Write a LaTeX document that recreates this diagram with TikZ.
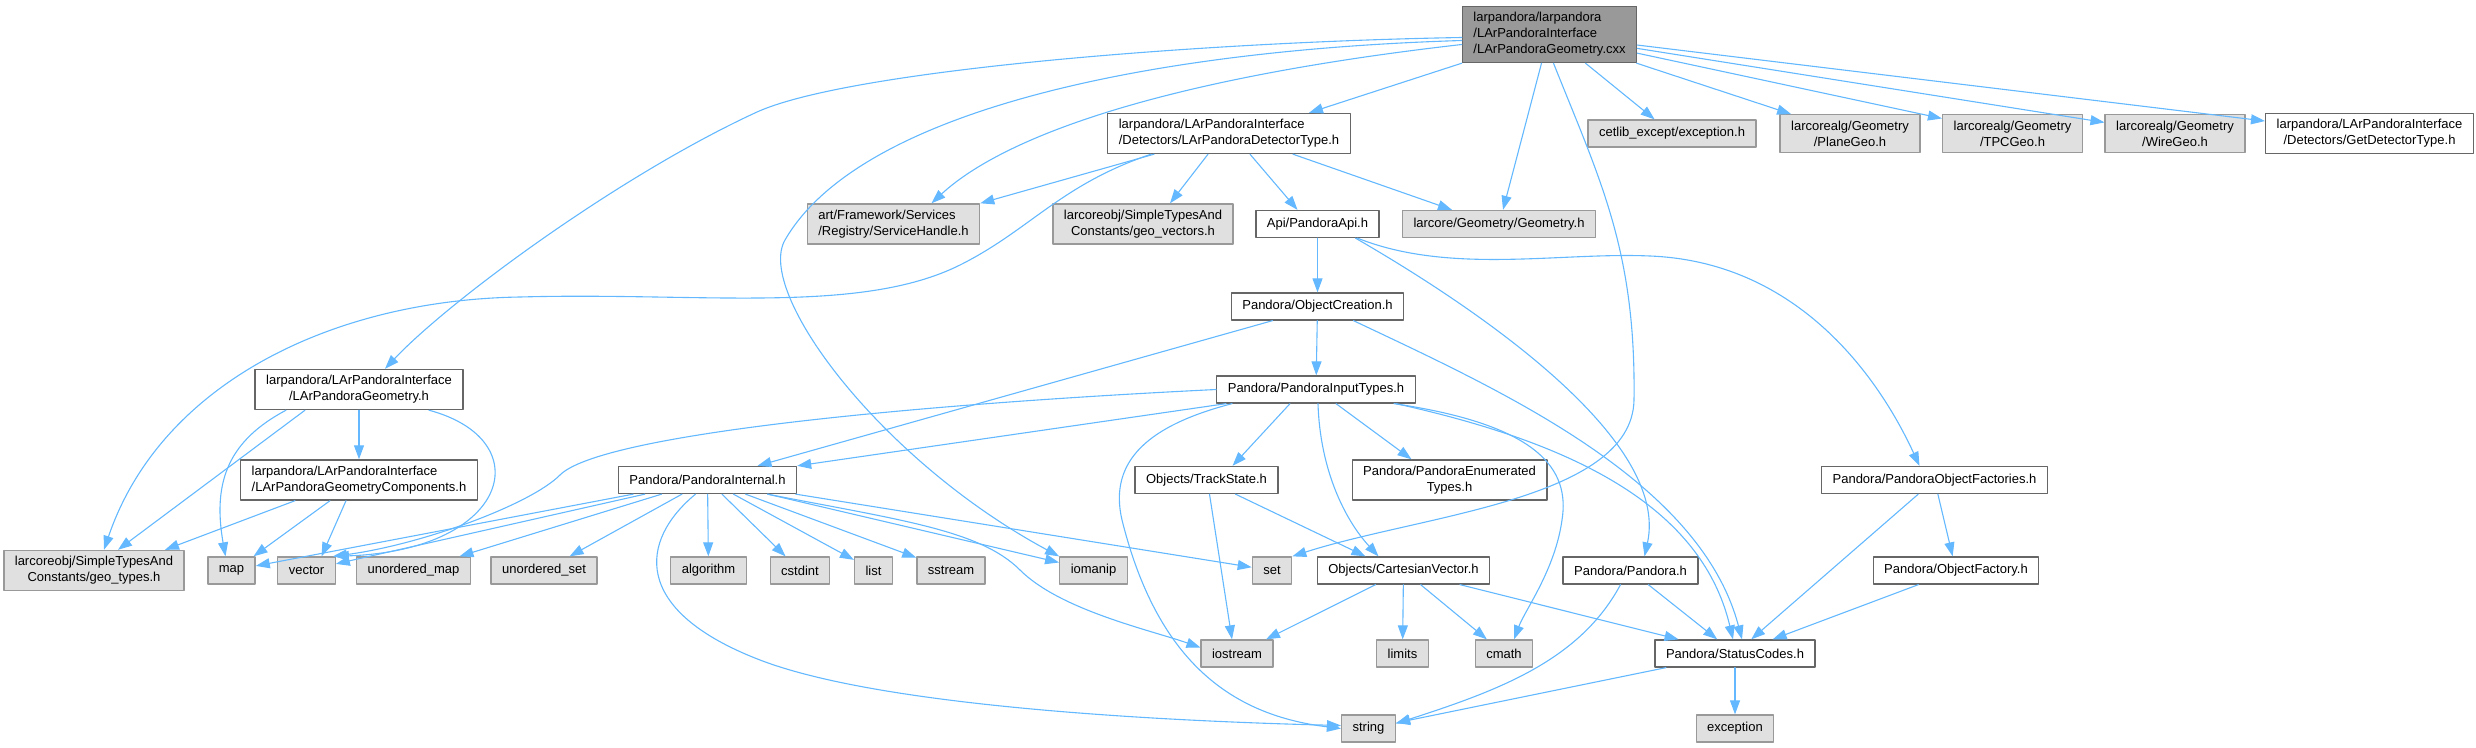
\documentclass[tikz,border=0pt]{standalone}
\usepackage{fontspec}
\setmainfont{Liberation Sans}
\usetikzlibrary{arrows.meta}
\definecolor{edgeblue}{HTML}{63B8FF}
\definecolor{srcfill}{HTML}{999999}
\definecolor{sysfill}{HTML}{E0E0E0}
\definecolor{darkline}{HTML}{666666}
\definecolor{lightline}{HTML}{999999}
\begin{document}
\begin{tikzpicture}[x=1pt, y=-1pt, line join=round, line cap=round, >={Triangle[length=14pt,width=10pt]},
  box/.style={rectangle, line width=1.3pt, minimum height=27pt, inner xsep=11pt, inner ysep=6pt, font=\fontsize{13}{16}\selectfont},
  hdr/.style={box, draw=darkline, fill=white},
  sys/.style={box, draw=lightline, fill=sysfill},
  src/.style={box, draw=darkline, fill=srcfill},
  dep/.style={->, draw=edgeblue, line width=1.1pt}]
\useasboundingbox (0,0) rectangle (2476,747);
\node[src, align=left] (cxx) at (1549.5,34.5) {larpandora/larpandora\\/LArPandoraInterface\\/LArPandoraGeometry.cxx};
\node[hdr, align=left] (dettype) at (1229,133.5) {larpandora/LArPandoraInterface\\/Detectors/LArPandoraDetectorType.h};
\node[sys] (cetexc) at (1672,133.5) {cetlib\_except/exception.h};
\node[sys, align=center] (planegeo) at (1850,133.5) {larcorealg/Geometry\\/PlaneGeo.h};
\node[sys, align=center] (tpcgeo) at (2012.5,133.5) {larcorealg/Geometry\\/TPCGeo.h};
\node[sys, align=center] (wiregeo) at (2175,133.5) {larcorealg/Geometry\\/WireGeo.h};
\node[hdr, align=center] (getdet) at (2369.5,133.5) {larpandora/LArPandoraInterface\\/Detectors/GetDetectorType.h};
\node[sys, align=left] (svchandle) at (893.5,224) {art/Framework/Services\\/Registry/ServiceHandle.h};
\node[sys, align=center] (geovec) at (1143,224) {larcoreobj/SimpleTypesAnd\\Constants/geo\_vectors.h};
\node[hdr] (api) at (1317.5,224) {Api/PandoraApi.h};
\node[sys] (geom) at (1499,224) {larcore/Geometry/Geometry.h};
\node[hdr] (objcreate) at (1317.5,306.5) {Pandora/ObjectCreation.h};
\node[hdr, align=center] (lpgeom) at (359,389.5) {larpandora/LArPandoraInterface\\/LArPandoraGeometry.h};
\node[hdr] (inputtypes) at (1316,389.5) {Pandora/PandoraInputTypes.h};
\node[hdr, align=left] (lpgeomcomp) at (359,480) {larpandora/LArPandoraInterface\\/LArPandoraGeometryComponents.h};
\node[hdr] (internal) at (707.5,480) {Pandora/PandoraInternal.h};
\node[hdr] (trackstate) at (1206.5,480) {Objects/TrackState.h};
\node[hdr, align=center] (enumtypes) at (1449.5,480) {Pandora/PandoraEnumerated\\Types.h};
\node[hdr] (objfactories) at (1934.5,480) {Pandora/PandoraObjectFactories.h};
\node[sys, align=center] (geotypes) at (94,570.5) {larcoreobj/SimpleTypesAnd\\Constants/geo\_types.h};
\foreach \n/\x/\t in {map/231.5/map, vector/306.5/vector, umap/413.5/unordered\_map, uset/544/unordered\_set, algorithm/708.5/algorithm, cstdint/800/cstdint, list/873.5/list, sstream/951/sstream, iomanip/1093.5/iomanip, set/1272/set}
  \node[sys] (\n) at (\x,570.5) {\t};
\node[hdr] (cartvec) at (1403.5,570.5) {Objects/CartesianVector.h};
\node[hdr] (pandora) at (1630.5,570.5) {Pandora/Pandora.h};
\node[hdr] (objfactory) at (1956,570.5) {Pandora/ObjectFactory.h};
\foreach \n/\x in {iostream/1237, limits/1402.5, cmath/1504} \node[sys] (\n) at (\x,653.5) {\n};
\node[hdr] (status) at (1735,653.5) {Pandora/StatusCodes.h};
\foreach \n/\x in {string/1368.5, exception/1735} \node[sys] (\n) at (\x,728.5) {\n};

\draw[dep] (cxx.south west) -- ([xshift=80pt]dettype.north);
\draw[dep] ([xshift=-8pt]cxx.south) -- ([xshift=4pt]geom.north);
\draw[dep] ([xshift=4pt]cxx.south) .. controls (1600,180) and (1636,250) .. (1634,400) .. controls (1632,500) and (1420,515) .. (set.north east);
\draw[dep] ([xshift=36pt]cxx.south) -- (cetexc);
\foreach \t in {planegeo,tpcgeo,wiregeo,getdet} \draw[dep] (cxx) -- (\t);
\draw[dep] ([yshift=-10pt]cxx.west) .. controls (1150,80) and (1000,140) .. ([xshift=38pt]svchandle.north);
\draw[dep] ([yshift=-6pt]cxx.west) .. controls (1150,50) and (860,110) .. (785,240) .. controls (755,292) and (880,460) .. (iomanip.north west);
\draw[dep] ([yshift=-3pt]cxx.west) .. controls (1200,42) and (850,70) .. (757,112) .. controls (620,175) and (450,300) .. ([xshift=26pt]lpgeom.north);

\draw[dep] ([xshift=-75pt]dettype.south) -- (svchandle.north east);
\draw[dep] ([xshift=-78pt]dettype.south) .. controls (1060,185) and (1030,230) .. (960,265) .. controls (860,315) and (700,292) .. (520,297) .. controls (330,300) and (160,385) .. ([xshift=10pt]geotypes.north);
\draw[dep] ([xshift=-21pt]dettype.south) -- ([xshift=27pt]geovec.north);
\draw[dep] ([xshift=21pt]dettype.south) -- ([xshift=-20pt]api.north);
\draw[dep] ([xshift=64pt]dettype.south) -- ([xshift=-47pt]geom.north);

\draw[dep] (api) -- (objcreate);
\draw[dep] ([xshift=38pt]api.south) .. controls (1480,310) and (1670,440) .. ([xshift=14pt]pandora.north);
\draw[dep] ([xshift=40pt]api.south) .. controls (1450,275) and (1560,252) .. (1650,256) .. controls (1800,262) and (1880,380) .. ([xshift=-15pt]objfactories.north);

\draw[dep] (objcreate) -- (inputtypes);
\draw[dep] ([xshift=-45pt]objcreate.south) -- ([xshift=50pt]internal.north);
\draw[dep] ([xshift=36pt]objcreate.south) .. controls (1500,390) and (1700,480) .. ([xshift=7pt]status.north);

\draw[dep] ([xshift=-90pt]inputtypes.south) -- (internal.north east);
\draw[dep] (inputtypes.west) .. controls (900,405) and (600,435) .. (560,475) .. controls (530,505) and (420,545) .. ([xshift=-3pt]vector.north east);
\draw[dep] ([xshift=-26pt]inputtypes.south) -- ([xshift=26pt]trackstate.north);
\draw[dep] ([xshift=20pt]inputtypes.south) -- ([xshift=-38pt]enumtypes.north);
\draw[dep] ([xshift=2pt]inputtypes.south) .. controls (1320,470) and (1345,520) .. ([xshift=-25pt]cartvec.north);
\draw[dep] ([xshift=-84pt]inputtypes.south) .. controls (1150,425) and (1108,460) .. (1122,520) .. controls (1157,660) and (1230,715) .. (string.west);
\draw[dep] ([xshift=78pt]inputtypes.south) .. controls (1540,425) and (1570,470) .. (1562,520) .. controls (1555,570) and (1525,610) .. ([xshift=10pt]cmath.north);
\draw[dep] ([xshift=80pt]inputtypes.south) .. controls (1560,440) and (1700,500) .. ([xshift=-2pt]status.north);

\foreach \t in {map,vector,umap,uset,algorithm,cstdint,list,sstream,iomanip,set} \draw[dep] (internal) -- (\t);
\draw[dep] ([xshift=60pt]internal.south) .. controls (900,520) and (980,530) .. (1020,570) .. controls (1060,610) and (1150,630) .. ([yshift=6pt]iostream.west);
\draw[dep] ([xshift=-12pt]internal.south) .. controls (640,540) and (630,610) .. (760,660) .. controls (890,710) and (1200,722) .. ([yshift=3pt]string.west);

\draw[dep] ([xshift=3pt]trackstate.south) -- ([xshift=-5pt]iostream.north);
\draw[dep] ([xshift=29pt]trackstate.south) -- ([xshift=-38pt]cartvec.north);
\draw[dep] ([xshift=-28pt]cartvec.south) -- ([xshift=29pt]iostream.north);
\foreach \t in {limits,cmath,status} \draw[dep] (cartvec) -- (\t);
\draw[dep] ([xshift=-10pt]pandora.south) .. controls (1580,660) and (1500,690) .. ([yshift=5pt]string.east);
\draw[dep] (pandora) -- (status);
\draw[dep] (status) -- (string);
\draw[dep] (status) -- (exception);
\draw[dep] (objfactories) -- (status);
\draw[dep] (objfactories) -- (objfactory);
\draw[dep] (objfactory) -- (status);

\draw[dep] (lpgeom) -- (lpgeomcomp);
\draw[dep] ([xshift=-54pt]lpgeom.south) -- ([xshift=24pt]geotypes.north);
\draw[dep] ([xshift=-73pt]lpgeom.south) .. controls (230,440) and (212,480) .. ([xshift=-6pt]map.north);
\draw[dep] ([xshift=70pt]lpgeom.south) .. controls (540,440) and (510,550) .. ([xshift=-1pt]vector.north east);
\draw[dep] ([xshift=-64pt]lpgeomcomp.south) -- ([xshift=71pt]geotypes.north);
\draw[dep] ([xshift=-29pt]lpgeomcomp.south) -- ([xshift=22pt]map.north);
\draw[dep] ([xshift=-13pt]lpgeomcomp.south) -- ([xshift=15pt]vector.north);
\end{tikzpicture}
\end{document}
